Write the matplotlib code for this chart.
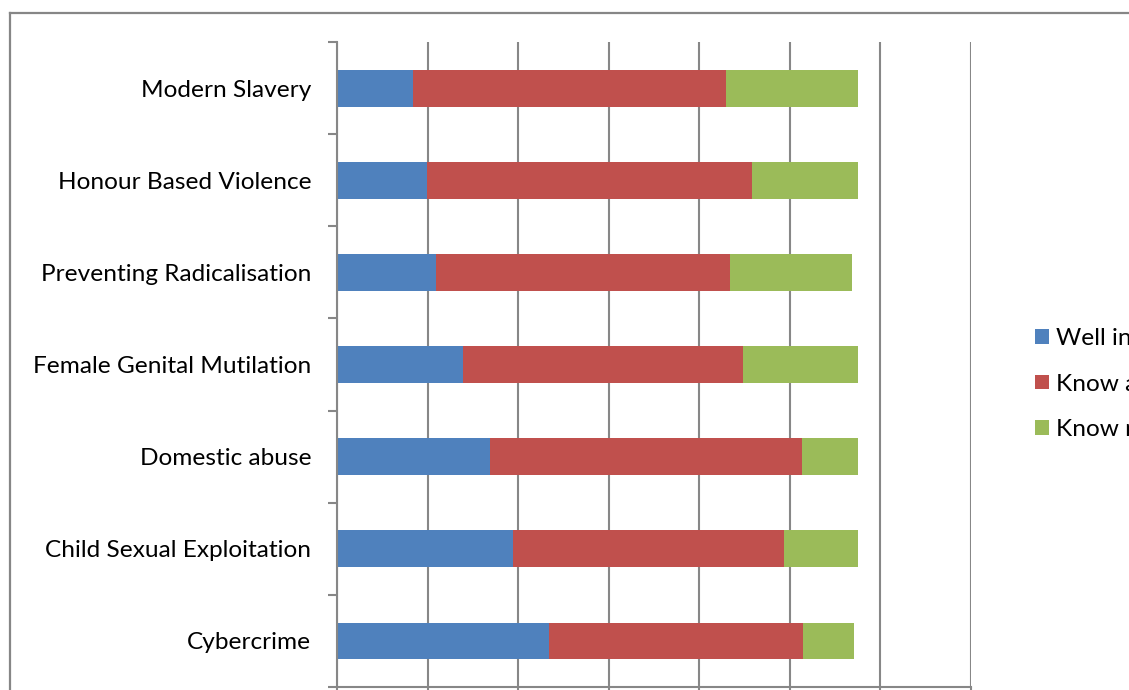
import matplotlib.pyplot as plt
from matplotlib.lines import Line2D
import numpy as np

# categories listed bottom -> top
categories = ['Cybercrime', 'Child Sexual Exploitation', 'Domestic abuse',
              'Female Genital Mutilation', 'Preventing Radicalisation',
              'Honour Based Violence', 'Modern Slavery']
series_names = ['Well informed', 'Know a little', 'Know nothing']
well_informed = [9.36, 7.76, 6.76, 5.55, 4.37, 3.96, 3.35]
know_little = [11.23, 11.98, 13.78, 12.38, 12.99, 14.38, 13.81]
know_nothing = [2.25, 3.25, 2.45, 5.06, 5.40, 4.65, 5.83]

colors = ['#4F81BD', '#C0504D', '#9BBB59']
grid_col = '#878787'

plt.rcParams['font.family'] = ['Lato', 'DejaVu Sans']

fig = plt.figure(figsize=(11.29, 6.90), dpi=100)
ax = fig.add_axes([337 / 1129, 3 / 690, 634 / 1129, 645 / 690])

y = np.arange(len(categories))
left = np.zeros(len(categories))
for vals, name, col in zip([well_informed, know_little, know_nothing], series_names, colors):
    ax.barh(y, vals, left=left, height=0.4, color=col, label=name, zorder=2)
    left = left + np.array(vals)

ax.set_xlim(0, 28)
ax.set_ylim(-0.5, len(categories) - 0.5)
ax.set_xticks(np.arange(0, 29, 4))
ax.set_xticklabels([])
ax.grid(axis='x', color=grid_col, linewidth=1.5)
ax.set_axisbelow(True)

ax.set_yticks(y)
ax.set_yticklabels(categories, fontsize=17.6)
ax.set_yticks(np.arange(-0.5, len(categories), 1), minor=True)
ax.tick_params(axis='y', which='major', length=0, pad=18.5)
ax.tick_params(axis='y', which='minor', length=6.5, width=1.5, color=grid_col, direction='out')
ax.tick_params(axis='x', length=6, width=1.5, color=grid_col, direction='out')

for s in ['top', 'right']:
    ax.spines[s].set_visible(False)
for s in ['left', 'bottom']:
    ax.spines[s].set_color(grid_col)
    ax.spines[s].set_linewidth(1.5)

# outer chart border (cut off right and bottom)
fig.add_artist(Line2D([10 / 1129, 10 / 1129], [0, 1 - 13 / 690], color='#868686', lw=1.6))
fig.add_artist(Line2D([10 / 1129, 1], [1 - 13 / 690, 1 - 13 / 690], color='#868686', lw=1.6))

fig.legend(loc='upper left', bbox_to_anchor=(1023 / 1129, 1 - 316 / 690), frameon=False,
           fontsize=17.6, handlelength=0.55, handleheight=0.55, handletextpad=0.3,
           labelspacing=1.0, borderpad=0)

fig.savefig('out.png', dpi=100)
